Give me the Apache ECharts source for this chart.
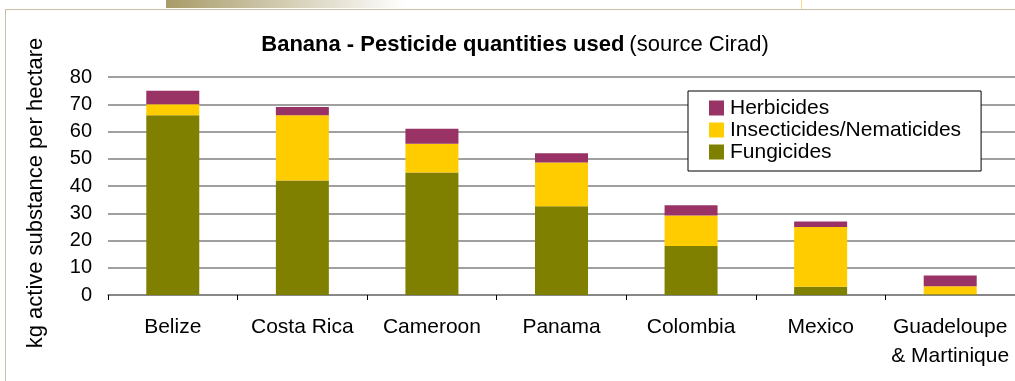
<!DOCTYPE html>
<html>
<head>
<meta charset="utf-8">
<script src="https://cdn.jsdelivr.net/npm/echarts@6/dist/echarts.min.js"></script>
<style>
  html, body { margin: 0; padding: 0; background: #ffffff; }
  #chart { width: 1015px; height: 381px; }
</style>
</head>
<body>
<div id="chart"></div>
<script>
// Pesticide use on banana plantations, kg of active substance per hectare
const countries = ['Belize', 'Costa Rica', 'Cameroon', 'Panama', 'Colombia', 'Mexico', 'Guadeloupe\n& Martinique'];
const fungicides = [66, 42, 45, 32.6, 18, 3, 0.3];
const insecticides = [4, 24, 10.5, 16, 11.2, 22, 2.9];
const herbicides = [5, 3, 5.5, 3.4, 3.7, 2, 4];
const yTicks = { min: 0, max: 80, interval: 10 };

const FONT = 'Liberation Sans, Arial, sans-serif';
const colors = { fung: '#808000', insect: '#FFCC00', herb: '#993366' };

const chart = echarts.init(document.getElementById('chart'), null, { renderer: 'canvas' });

function barSeries(name, data, color) {
  return {
    name: name,
    type: 'bar',
    stack: 'total',
    data: data,
    barWidth: 53,
    itemStyle: { color: color },
    emphasis: { disabled: true }
  };
}

chart.setOption({
  animation: false,
  backgroundColor: '#ffffff',
  title: {
    text: '{b|Banana - Pesticide quantities used} {n|(source Cirad)}',
    left: 510,
    top: 29,
    textAlign: 'center',
    textStyle: {
      fontWeight: 'normal',
      rich: {
        b: { fontFamily: FONT, fontSize: 22, fontWeight: 'bold', color: '#000' },
        n: { fontFamily: FONT, fontSize: 22, fontWeight: 'normal', color: '#000' }
      }
    }
  },
  legend: {
    orient: 'vertical',
    left: 688,
    top: 91,
    data: ['Herbicides', 'Insecticides/Nematicides', 'Fungicides'],
    icon: 'rect',
    itemWidth: 15,
    itemHeight: 15,
    itemGap: 0,
    backgroundColor: '#ffffff',
    borderColor: '#000000',
    borderWidth: 1,
    padding: [6, 20, 8, 21],
    textStyle: { fontFamily: FONT, fontSize: 21, color: '#000', lineHeight: 22, padding: [0, 0, 0, 1] }
  },
  grid: { left: 108, top: 77, width: 910, height: 218, containLabel: false },
  xAxis: {
    type: 'category',
    data: countries,
    axisLine: { lineStyle: { color: '#808080', width: 1.5 } },
    axisTick: { show: true, length: 5, lineStyle: { color: '#000' } },
    axisLabel: { fontFamily: FONT, fontSize: 21, color: '#000', margin: 18, lineHeight: 29, interval: 0 }
  },
  yAxis: {
    type: 'value',
    min: yTicks.min,
    max: yTicks.max,
    interval: yTicks.interval,
    name: 'kg active substance per hectare',
    nameLocation: 'middle',
    nameGap: 61,
    nameTextStyle: { fontFamily: FONT, fontSize: 22, color: '#000', padding: [0, 14, 0, 0] },
    axisLine: { show: false },
    axisTick: { show: false },
    axisLabel: { fontFamily: FONT, fontSize: 20, color: '#000', margin: 16 },
    splitLine: { lineStyle: { color: '#808080', width: 1.5 } }
  },
  series: [
    barSeries('Fungicides', fungicides, colors.fung),
    barSeries('Insecticides/Nematicides', insecticides, colors.insect),
    barSeries('Herbicides', herbicides, colors.herb)
  ],
  graphic: [
    {
      type: 'rect',
      shape: { x: 166, y: 0, width: 240, height: 8 },
      style: {
        fill: new echarts.graphic.LinearGradient(0, 0, 1, 0, [
          { offset: 0, color: '#a89b68' },
          { offset: 1, color: '#ffffff' }
        ])
      },
      silent: true
    },
    {
      type: 'line',
      shape: { x1: 5, y1: 9.5, x2: 1015, y2: 9.5 },
      style: { stroke: '#c9bfa4', lineWidth: 1 },
      silent: true
    },
    {
      type: 'line',
      shape: { x1: 5.5, y1: 9, x2: 5.5, y2: 381 },
      style: { stroke: '#c9bfa4', lineWidth: 1 },
      silent: true
    },
    {
      type: 'line',
      shape: { x1: 801.5, y1: 0, x2: 801.5, y2: 9 },
      style: { stroke: '#ffd98a', lineWidth: 1 },
      silent: true
    }
  ]
});
</script>
</body>
</html>
